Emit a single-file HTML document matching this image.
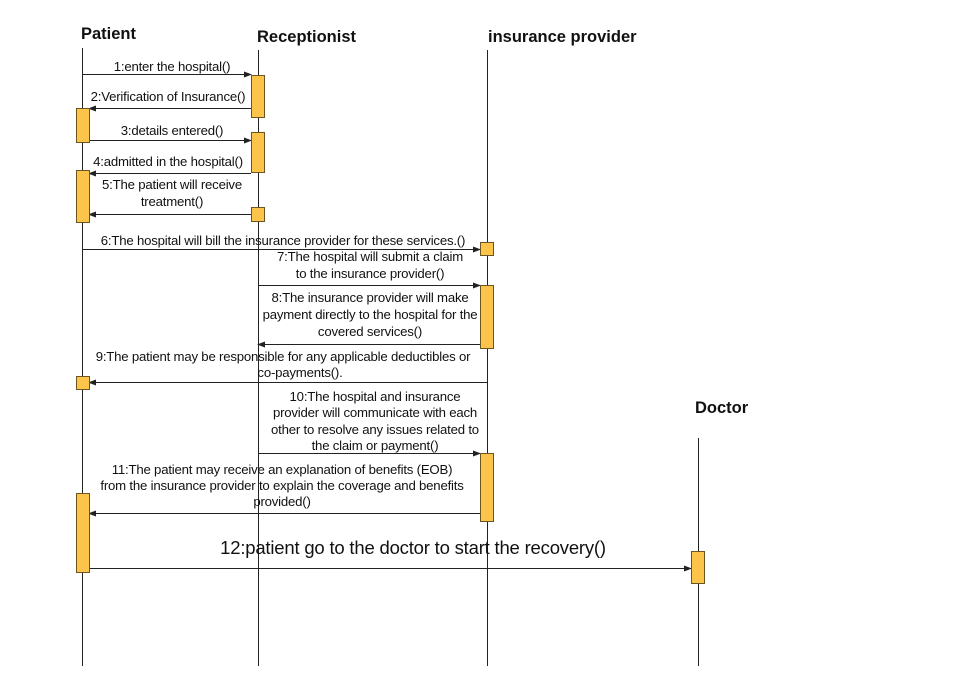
<!DOCTYPE html>
<html><head><style>
html,body{margin:0;padding:0;background:#fff;}
svg{display:block;}
text{font-family:"Liberation Sans",Arial,sans-serif;fill:#111;}
.m{font-size:13.2px;letter-spacing:-0.2px;text-anchor:middle;}
.h{font-size:16.5px;font-weight:bold;}
.a{fill:#fcc44a;stroke:#6b5520;stroke-width:1;}
.l{stroke:#222;stroke-width:1;}
</style></head><body>
<svg width="962" height="681" viewBox="0 0 962 681" xmlns="http://www.w3.org/2000/svg">
<defs><marker id="ar" markerWidth="8" markerHeight="6" refX="7" refY="3" orient="auto" markerUnits="userSpaceOnUse"><path d="M0,0 L8,3 L0,6 z" fill="#222"/></marker></defs>
<text class="h" x="81" y="39">Patient</text>
<text class="h" x="257" y="42">Receptionist</text>
<text class="h" x="488" y="42">insurance provider</text>
<text class="h" x="695" y="413">Doctor</text>
<line class="l" x1="82.5" y1="48" x2="82.5" y2="666"/>
<line class="l" x1="258.5" y1="50" x2="258.5" y2="666"/>
<line class="l" x1="487.5" y1="50" x2="487.5" y2="666"/>
<line class="l" x1="698.5" y1="438" x2="698.5" y2="666"/>
<line class="l" x1="82" y1="74.5" x2="251" y2="74.5" marker-end="url(#ar)"/>
<text class="m" x="172" y="71">1:enter the hospital()</text>
<line class="l" x1="251" y1="108.5" x2="89" y2="108.5" marker-end="url(#ar)"/>
<text class="m" x="168" y="101">2:Verification of Insurance()</text>
<line class="l" x1="89" y1="140.5" x2="251" y2="140.5" marker-end="url(#ar)"/>
<text class="m" x="172" y="135">3:details entered()</text>
<line class="l" x1="251" y1="173.5" x2="89" y2="173.5" marker-end="url(#ar)"/>
<text class="m" x="168" y="166">4:admitted in the hospital()</text>
<line class="l" x1="251" y1="214.5" x2="89" y2="214.5" marker-end="url(#ar)"/>
<text class="m" x="172" y="189">5:The patient will receive</text>
<text class="m" x="172" y="206">treatment()</text>
<line class="l" x1="82" y1="249.5" x2="480" y2="249.5" marker-end="url(#ar)"/>
<text class="m" x="283" y="245">6:The hospital will bill the insurance provider for these services.()</text>
<line class="l" x1="258" y1="285.5" x2="480" y2="285.5" marker-end="url(#ar)"/>
<text class="m" x="370" y="261">7:The hospital will submit a claim</text>
<text class="m" x="370" y="278">to the insurance provider()</text>
<line class="l" x1="480" y1="344.5" x2="258" y2="344.5" marker-end="url(#ar)"/>
<text class="m" x="370" y="302">8:The insurance provider will make</text>
<text class="m" x="370" y="319">payment directly to the hospital for the</text>
<text class="m" x="370" y="336">covered services()</text>
<line class="l" x1="487" y1="382.5" x2="89" y2="382.5" marker-end="url(#ar)"/>
<text class="m" x="283" y="361">9:The patient may be responsible for any applicable deductibles or</text>
<text class="m" x="300" y="377">co-payments().</text>
<line class="l" x1="258" y1="453.5" x2="480" y2="453.5" marker-end="url(#ar)"/>
<text class="m" x="375" y="401">10:The hospital and insurance</text>
<text class="m" x="375" y="417">provider will communicate with each</text>
<text class="m" x="375" y="434">other to resolve any issues related to</text>
<text class="m" x="375" y="450">the claim or payment()</text>
<line class="l" x1="480" y1="513.5" x2="89" y2="513.5" marker-end="url(#ar)"/>
<text class="m" x="282" y="474">11:The patient may receive an explanation of benefits (EOB)</text>
<text class="m" x="282" y="490">from the insurance provider to explain the coverage and benefits</text>
<text class="m" x="282" y="506">provided()</text>
<line class="l" x1="89" y1="568.5" x2="691" y2="568.5" marker-end="url(#ar)"/>
<text x="413" y="554" style="font-size:18.5px;letter-spacing:-0.2px;text-anchor:middle">12:patient go to the doctor to start the recovery()</text>
<rect class="a" x="251.5" y="75.5" width="13" height="42"/>
<rect class="a" x="251.5" y="132.5" width="13" height="40"/>
<rect class="a" x="251.5" y="207.5" width="13" height="14"/>
<rect class="a" x="76.5" y="108.5" width="13" height="34"/>
<rect class="a" x="76.5" y="170.5" width="13" height="52"/>
<rect class="a" x="76.5" y="376.5" width="13" height="13"/>
<rect class="a" x="76.5" y="493.5" width="13" height="79"/>
<rect class="a" x="480.5" y="242.5" width="13" height="13"/>
<rect class="a" x="480.5" y="285.5" width="13" height="63"/>
<rect class="a" x="480.5" y="453.5" width="13" height="68"/>
<rect class="a" x="691.5" y="551.5" width="13" height="32"/>
</svg>
</body></html>
